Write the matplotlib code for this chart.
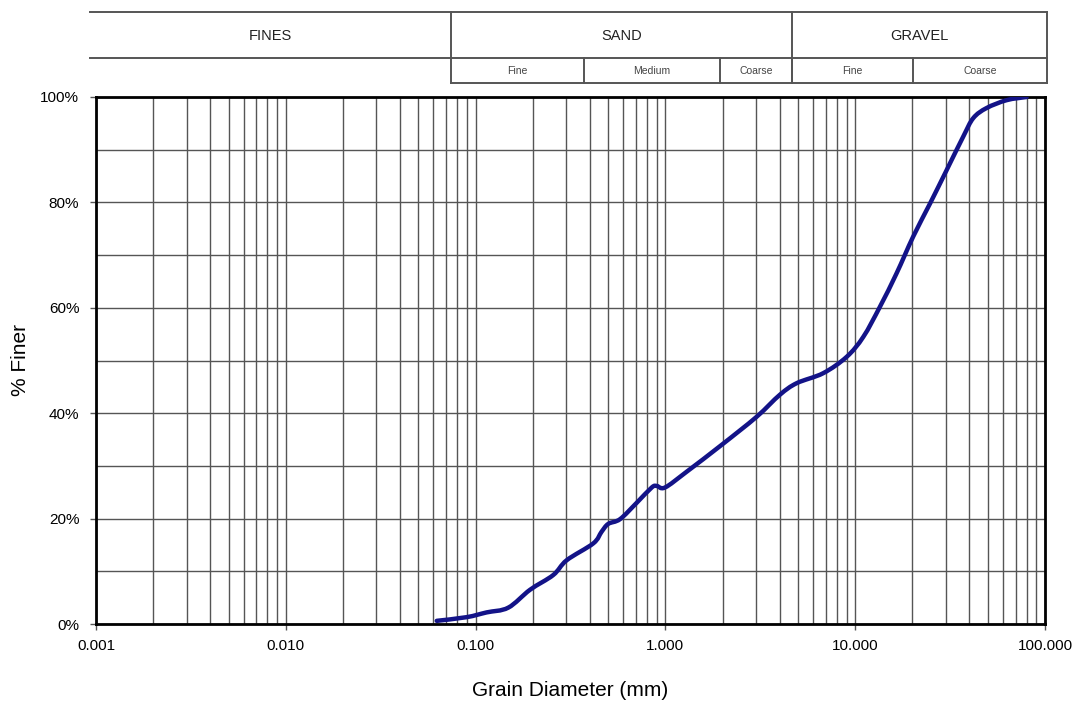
import numpy as np
import matplotlib
matplotlib.use("Agg")
import matplotlib.pyplot as plt
from matplotlib.path import Path
from matplotlib.patches import PathPatch
from matplotlib.ticker import FixedLocator, FuncFormatter, NullFormatter

plt.rcParams['font.family'] = ['Liberation Sans', 'DejaVu Sans']

# ---- data ----
grain_mm = [0.0624, 0.0898, 0.1143, 0.1486, 0.1936, 0.2566, 0.302, 0.417, 0.461,
            0.500, 0.577, 0.706, 0.847, 0.900, 0.995, 1.295, 1.98, 3.02, 4.01,
            4.92, 6.79, 9.02, 11.04, 13.5, 16.5, 20.2, 24.8, 30.3, 37.1, 41.9,
            49.2, 62.8, 80.0]
pct_finer = [0.6, 1.3, 2.2, 3.1, 6.5, 9.3, 12.1, 15.3, 17.5,
             19.0, 19.9, 23.0, 25.9, 26.2, 25.9, 28.9, 34.0, 39.3, 43.5,
             45.7, 47.6, 50.7, 54.5, 60.2, 66.5, 73.5, 79.8, 86.1, 92.5, 96.0,
             97.9, 99.4, 100.0]
x_ticks = [0.001, 0.01, 0.1, 1, 10, 100]
x_tick_labels = ["0.001", "0.010", "0.100", "1.000", "10.000", "100.000"]
y_ticks = [0, 20, 40, 60, 80, 100]

main_groups = ["FINES", "SAND", "GRAVEL"]
sub_groups = ["Fine", "Medium", "Coarse", "Fine", "Coarse"]

W, H = 1087, 706
fig = plt.figure(figsize=(W / 100, H / 100), dpi=100)

# main axes
L, R, T, B = 96, 1045, 97, 624
ax = fig.add_axes([L / W, 1 - B / H, (R - L) / W, (B - T) / H])
ax.set_xscale('log')
ax.set_xlim(0.001, 100)
ax.set_ylim(0, 100)

minor_x = [m * 10.0 ** e for e in range(-3, 2) for m in range(1, 10)]
ax.xaxis.set_major_locator(FixedLocator(x_ticks))
ax.xaxis.set_minor_locator(FixedLocator(minor_x))
ax.xaxis.set_minor_formatter(NullFormatter())
ax.set_xticklabels(x_tick_labels)
ax.yaxis.set_major_locator(FixedLocator(y_ticks))
ax.yaxis.set_minor_locator(FixedLocator(list(range(0, 101, 10))))
ax.yaxis.set_major_formatter(FuncFormatter(lambda v, p: f"{int(v)}%"))

ax.grid(True, which='both', color='#555555', linewidth=1.0)
ax.set_axisbelow(True)
ax.tick_params(which='minor', length=0)
ax.tick_params(which='major', length=4, width=1, labelsize=11, color='#555555')
ax.tick_params(axis='x', pad=7)
ax.tick_params(axis='y', pad=8)
for s in ax.spines.values():
    s.set_linewidth(2)
    s.set_color('black')

# smooth curve through the points: Catmull-Rom -> cubic Bezier in log-x space
lx = np.log10(grain_mm)
py = np.array(pct_finer, dtype=float)
n = len(lx)
verts = [(grain_mm[0], py[0])]
codes = [Path.MOVETO]
for i in range(n - 1):
    i0 = max(i - 1, 0)
    i3 = min(i + 2, n - 1)
    c1x = lx[i] + (lx[i + 1] - lx[i0]) / 6
    c1y = py[i] + (py[i + 1] - py[i0]) / 6
    c2x = lx[i + 1] - (lx[i3] - lx[i]) / 6
    c2y = py[i + 1] - (py[i3] - py[i]) / 6
    verts += [(10 ** c1x, c1y), (10 ** c2x, c2y), (grain_mm[i + 1], py[i + 1])]
    codes += [Path.CURVE4] * 3
patch = PathPatch(Path(verts, codes), facecolor='none', edgecolor='#131388',
                  linewidth=3.2, joinstyle='round', capstyle='round', zorder=5)
ax.add_patch(patch)

ax.set_xlabel("Grain Diameter (mm)", fontsize=15, labelpad=20)
ax.set_ylabel("% Finer", fontsize=15)
ax.yaxis.set_label_coords(-(L - 30) / (R - L), 0.5)

# header table overlay (pixel coordinates)
hx = fig.add_axes([0, 0, 1, 1], zorder=-1)
hx.set_xlim(0, W)
hx.set_ylim(H, 0)
hx.axis('off')
lc = '#555555'
lw = 1.4
y_top, y_mid, y_bot = 12, 57.5, 83
x0, xs, xg, x1 = 90, 451, 792, 1047
hx.plot([x0, x1], [y_top, y_top], color=lc, lw=lw)
hx.plot([x0, x1], [y_mid, y_mid], color=lc, lw=lw)
hx.plot([xs, x1], [y_bot, y_bot], color=lc, lw=lw)
for xv in [xs, xg, x1]:
    hx.plot([xv, xv], [y_top, y_bot], color=lc, lw=lw)
sub_edges = [xs, 584, 720, xg, 913, x1]
for xv in sub_edges[1:-1]:
    hx.plot([xv, xv], [y_mid, y_bot], color=lc, lw=lw)
main_edges = [x0, xs, xg, x1]
for i, name in enumerate(main_groups):
    hx.text((main_edges[i] + main_edges[i + 1]) / 2, (y_top + y_mid) / 2 + 1, name,
            ha='center', va='center', fontsize=10.5, color='#222222')
for i, name in enumerate(sub_groups):
    hx.text((sub_edges[i] + sub_edges[i + 1]) / 2, (y_mid + y_bot) / 2 + 1, name,
            ha='center', va='center', fontsize=7.5, color='#444444')

fig.savefig("out.png", dpi=100)
